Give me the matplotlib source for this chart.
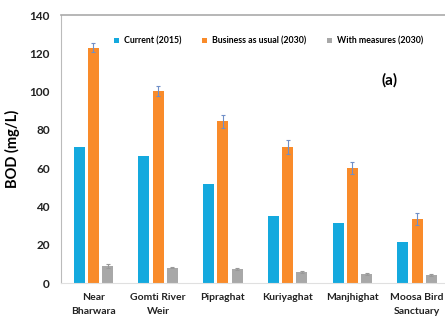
import matplotlib
matplotlib.use("Agg")
import matplotlib.pyplot as plt
import numpy as np

plt.rcParams['font.family'] = ['Lato', 'DejaVu Sans']

sites = ["Near\nBharwara", "Gomti River\nWeir", "Pipraghat", "Kuriyaghat", "Manjhighat", "Moosa Bird\nSanctuary"]
current_2015 = [71, 66.5, 52, 35, 31.5, 21.5]
bau_2030 = [123, 100.5, 84.5, 71, 60, 33.5]
bau_err = [2.5, 2.5, 3.5, 3.5, 3.0, 3.0]
measures_2030 = [9, 8, 7.5, 6, 4.5, 4]
measures_err = [1.0, 0.4, 0.5, 0.5, 0.5, 0.5]
series_names = ["Current (2015)", "Business as usual (2030)", "With measures (2030)"]
colors = ["#14A9DE", "#F98B2A", "#A8A8A8"]

fig = plt.figure(figsize=(4.45, 3.22), dpi=100)
ax = fig.add_axes([0.137, 0.121, 0.863, 0.832])

x = np.arange(len(sites))
w = 0.17
step = 0.22
err_kw = dict(ecolor="#6F8FC8", elinewidth=0.8, capsize=1.5, capthick=0.8)
ax.bar(x - step, current_2015, w, color=colors[0], label=series_names[0])
ax.bar(x, bau_2030, w, color=colors[1], yerr=bau_err, error_kw=err_kw, label=series_names[1])
ax.bar(x + step, measures_2030, w, color=colors[2], yerr=measures_err,
       error_kw=dict(ecolor="#999999", elinewidth=0.8, capsize=1.5, capthick=0.8),
       label=series_names[2])

ax.set_xlim(-0.5, 5.43)
ax.set_ylim(0, 140)
ax.set_yticks(range(0, 141, 20))
ax.set_xticks(x)
ax.set_xticklabels(sites, fontsize=7.5, fontweight="bold", color="#222222", linespacing=1.7)
ax.tick_params(axis="y", labelsize=8.5, length=0, pad=8, labelcolor="#222222")
ax.tick_params(axis="x", length=0, pad=7)
for lab in ax.get_yticklabels():
    lab.set_fontweight("bold")

ax.spines["right"].set_visible(False)
ax.spines["left"].set_color("#BBBBBB")
ax.spines["top"].set_color("#AAAAAA")
ax.spines["top"].set_linewidth(1.2)
ax.spines["bottom"].set_color("#E0E0E0")

ax.set_ylabel("BOD (mg/L)", fontsize=10.5, fontweight="bold", labelpad=7)

ax.legend(loc="upper center", bbox_to_anchor=(0.54, 0.95), ncol=3, frameon=False,
          prop=dict(size=6.3, weight="bold"), handlelength=0.6, handleheight=0.6,
          columnspacing=2.4, handletextpad=0.5)

ax.text(0.855, 0.755, "(a)", transform=ax.transAxes, fontsize=11, fontweight="bold",
        ha="center", va="center")

fig.savefig("out.png", dpi=100)
